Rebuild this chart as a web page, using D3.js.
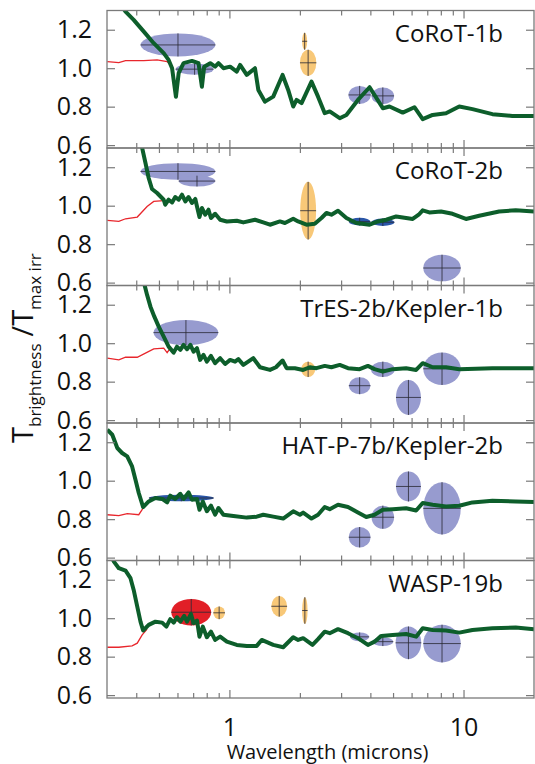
<!DOCTYPE html>
<html><head><meta charset="utf-8">
<script src="https://cdn.jsdelivr.net/npm/d3@7"></script>
<style>body{margin:0;background:#fff} text{font-family:"Open Sans",sans-serif;fill:#111}</style>
</head><body><svg id="c" width="535" height="764"></svg>
<script>
// ---------- data ----------
const planetNames = ["CoRoT-1b","CoRoT-2b","TrES-2b/Kepler-1b","HAT-P-7b/Kepler-2b","WASP-19b"];
const yTickValues = [0.6, 0.8, 1.0, 1.2];
const xMajorTicks = [1, 10];
const xMinorTicks = [0.4,0.5,0.6,0.7,0.8,0.9,2,3,4,5,6,7,8,9];
const xAxisLabel = "Wavelength (microns)";

// model brightness temperature ratio (green), [wavelength, T/Tmax]
const corot1Model = [[0.337,1.344],[0.360,1.294],[0.390,1.251],[0.431,1.190],[0.475,1.130],[0.524,1.078],[0.550,1.043],[0.569,1.000],[0.591,0.852],[0.607,0.974],[0.637,1.026],[0.692,1.038],[0.738,1.026],[0.763,0.904],[0.780,1.008],[0.828,1.026],[0.869,1.008],[0.898,1.026],[0.943,1.000],[1.007,1.008],[1.075,0.982],[1.111,1.017],[1.186,0.965],[1.286,1.000],[1.329,0.887],[1.419,0.826],[1.539,0.852],[1.687,0.965],[1.783,0.887],[1.873,0.801],[1.936,0.835],[2.033,0.818],[2.242,0.930],[2.391,0.852],[2.554,0.766],[2.682,0.775],[2.959,0.740],[3.160,0.757],[3.540,0.835],[3.970,0.901],[4.522,0.792],[4.828,0.801],[5.500,0.769],[6.169,0.797],[6.693,0.735],[7.381,0.757],[8.418,0.766],[9.587,0.801],[10.92,0.787],[13.29,0.761],[16.16,0.752],[20.0,0.752]];
const corot2Model = [[0.417,1.332],[0.424,1.300],[0.438,1.222],[0.452,1.144],[0.467,1.087],[0.491,1.066],[0.524,1.031],[0.532,1.005],[0.550,1.031],[0.569,1.017],[0.587,1.045],[0.607,1.031],[0.627,1.057],[0.648,1.022],[0.669,1.045],[0.692,1.014],[0.715,1.035],[0.727,0.996],[0.745,0.941],[0.763,0.988],[0.788,0.953],[0.814,0.979],[0.834,0.936],[0.869,0.958],[0.913,0.927],[0.975,0.918],[1.075,0.922],[1.147,0.913],[1.286,0.927],[1.395,0.913],[1.490,0.901],[1.643,0.918],[1.726,0.910],[1.873,0.932],[1.966,0.918],[2.135,0.901],[2.315,0.906],[2.473,0.936],[2.597,0.962],[2.727,0.953],[2.910,0.974],[3.160,0.936],[3.485,0.910],[3.970,0.901],[4.306,0.918],[4.675,0.927],[5.156,0.944],[6.067,0.931],[6.435,0.953],[6.693,0.976],[7.145,0.965],[8.015,0.970],[8.977,0.958],[10.24,0.931],[11.67,0.948],[14.19,0.970],[16.71,0.976],[20.0,0.970]];
const tres2Model = [[0.425,1.339],[0.434,1.303],[0.445,1.251],[0.460,1.190],[0.478,1.138],[0.499,1.086],[0.524,1.034],[0.550,0.982],[0.578,0.951],[0.597,0.982],[0.617,0.965],[0.637,0.991],[0.659,0.969],[0.681,0.991],[0.703,0.956],[0.727,0.974],[0.750,0.913],[0.775,0.939],[0.801,0.904],[0.834,0.934],[0.869,0.896],[0.913,0.922],[0.959,0.892],[1.007,0.913],[1.057,0.904],[1.092,0.917],[1.147,0.887],[1.265,0.922],[1.351,0.875],[1.490,0.861],[1.580,0.875],[1.687,0.910],[1.755,0.870],[1.904,0.870],[2.065,0.861],[2.205,0.875],[2.354,0.870],[2.554,0.882],[2.727,0.875],[2.959,0.887],[3.210,0.870],[3.600,0.865],[3.904,0.882],[4.169,0.865],[4.522,0.852],[4.987,0.865],[5.687,0.870],[6.273,0.861],[6.693,0.896],[7.381,0.875],[8.418,0.875],[9.587,0.865],[13.29,0.870],[20.0,0.870]];
const hatp7Model = [[0.301,1.265],[0.316,1.239],[0.332,1.170],[0.348,1.144],[0.366,1.126],[0.384,1.074],[0.397,1.005],[0.410,0.936],[0.428,0.863],[0.452,0.892],[0.483,0.910],[0.516,0.905],[0.542,0.887],[0.559,0.922],[0.587,0.905],[0.617,0.932],[0.637,0.905],[0.669,0.939],[0.692,0.901],[0.727,0.905],[0.745,0.849],[0.770,0.892],[0.801,0.841],[0.834,0.870],[0.869,0.823],[0.898,0.858],[0.943,0.823],[1.040,0.816],[1.186,0.808],[1.308,0.813],[1.395,0.823],[1.539,0.813],[1.697,0.803],[1.873,0.841],[2.000,0.823],[2.065,0.834],[2.242,0.803],[2.391,0.823],[2.554,0.863],[2.682,0.852],[2.910,0.875],[3.210,0.863],[3.540,0.835],[3.843,0.811],[4.169,0.823],[4.522,0.849],[4.987,0.852],[5.687,0.857],[6.273,0.845],[6.693,0.884],[7.381,0.875],[8.418,0.866],[9.587,0.870],[10.92,0.887],[13.29,0.896],[16.71,0.892],[20.0,0.889]];
const wasp19Model = [[0.311,1.329],[0.321,1.294],[0.337,1.260],[0.360,1.247],[0.378,1.208],[0.390,1.147],[0.404,1.060],[0.417,0.982],[0.428,0.936],[0.452,0.965],[0.483,0.982],[0.516,0.977],[0.538,0.956],[0.559,0.995],[0.578,0.977],[0.597,1.005],[0.617,0.982],[0.641,1.012],[0.659,0.982],[0.685,1.022],[0.703,0.974],[0.727,0.988],[0.745,0.904],[0.770,0.956],[0.801,0.901],[0.834,0.930],[0.869,0.887],[0.913,0.904],[0.975,0.878],[1.075,0.861],[1.186,0.856],[1.308,0.856],[1.374,0.887],[1.539,0.861],[1.697,0.849],[1.873,0.901],[1.966,0.887],[2.065,0.896],[2.264,0.861],[2.391,0.891],[2.554,0.930],[2.682,0.922],[2.910,0.943],[3.210,0.922],[3.540,0.896],[3.904,0.861],[4.169,0.878],[4.452,0.908],[4.987,0.913],[5.687,0.918],[6.273,0.904],[6.693,0.948],[7.381,0.939],[8.418,0.936],[9.587,0.925],[10.92,0.939],[13.29,0.948],[16.71,0.951],[20.0,0.943]];

// short-wavelength reflected-light curve (red)
const corot1Red = [[0.301,1.034],[0.337,1.029],[0.360,1.039],[0.431,1.039],[0.491,1.043],[0.542,1.034],[0.569,1.008],[0.591,0.852]];
const corot2Red = [[0.301,0.924],[0.337,0.918],[0.360,0.932],[0.404,0.941],[0.445,0.996],[0.475,1.022],[0.524,1.026]];
const tres2Red = [[0.301,0.922],[0.337,0.913],[0.360,0.927],[0.404,0.927],[0.438,0.948],[0.475,0.970],[0.524,0.974],[0.542,0.951],[0.559,0.974]];
const hatp7Red = [[0.301,0.823],[0.337,0.818],[0.366,0.829],[0.410,0.823],[0.431,0.863]];
const wasp19Red = [[0.301,0.849],[0.337,0.849],[0.384,0.856],[0.404,0.870],[0.424,0.913],[0.445,0.943]];

// observations: wl centre, band lo/hi, T/Tmax, error, kind
const corot1Obs = [
  {wl:0.603,lo:0.389,hi:0.812,t:1.121,err:0.060,kind:"broad"},
  {wl:0.710,lo:0.582,hi:0.844,t:0.995,err:0.029,kind:"broad"},
  {wl:2.096,lo:2.044,hi:2.147,t:1.140,err:0.044,kind:"ground"},
  {wl:2.169,lo:1.986,hi:2.332,t:1.028,err:0.068,kind:"ground"},
  {wl:3.600,lo:3.241,hi:4.036,t:0.861,err:0.047,kind:"broad"},
  {wl:4.522,lo:4.036,hi:5.036,t:0.856,err:0.044,kind:"broad"}];
const corot2Obs = [
  {wl:0.603,lo:0.390,hi:0.814,t:1.178,err:0.043,kind:"broad"},
  {wl:0.727,lo:0.587,hi:0.841,t:1.128,err:0.028,kind:"broad"},
  {wl:2.169,lo:2.000,hi:2.338,t:0.974,err:0.150,kind:"ground"},
  {wl:3.600,lo:3.264,hi:4.036,t:0.917,err:0.020,kind:"dark"},
  {wl:4.522,lo:4.036,hi:5.070,t:0.914,err:0.019,kind:"dark"},
  {wl:8.094,lo:6.587,hi:9.522,t:0.676,err:0.069,kind:"broad"}];
const tres2Obs = [
  {wl:0.652,lo:0.452,hi:0.855,t:1.055,err:0.065,kind:"broad"},
  {wl:2.169,lo:2.013,hi:2.315,t:0.864,err:0.040,kind:"ground"},
  {wl:3.600,lo:3.241,hi:4.009,t:0.779,err:0.044,kind:"broad"},
  {wl:4.522,lo:4.009,hi:5.070,t:0.864,err:0.040,kind:"broad"},
  {wl:5.817,lo:5.121,hi:6.543,t:0.718,err:0.091,kind:"broad"},
  {wl:8.094,lo:6.587,hi:9.522,t:0.867,err:0.084,kind:"broad"}];
const hatp7Obs = [
  {wl:0.623,lo:0.452,hi:0.855,t:0.910,err:0.017,kind:"dark"},
  {wl:3.600,lo:3.241,hi:4.009,t:0.706,err:0.053,kind:"broad"},
  {wl:4.522,lo:4.036,hi:5.036,t:0.810,err:0.060,kind:"broad"},
  {wl:5.817,lo:5.121,hi:6.543,t:0.970,err:0.078,kind:"broad"},
  {wl:8.094,lo:6.587,hi:9.522,t:0.856,err:0.136,kind:"broad"}];
const wasp19Obs = [
  {wl:0.687,lo:0.554,hi:0.820,t:1.031,err:0.069,kind:"red"},
  {wl:0.904,lo:0.855,hi:0.959,t:1.028,err:0.033,kind:"ground"},
  {wl:1.632,lo:1.504,hi:1.755,t:1.062,err:0.054,kind:"ground"},
  {wl:2.100,lo:2.044,hi:2.156,t:1.040,err:0.069,kind:"ground"},
  {wl:3.600,lo:3.318,hi:3.998,t:0.903,err:0.023,kind:"broad"},
  {wl:4.522,lo:4.101,hi:5.036,t:0.878,err:0.023,kind:"broad"},
  {wl:5.817,lo:5.121,hi:6.587,t:0.872,err:0.085,kind:"broad"},
  {wl:8.094,lo:6.587,hi:9.522,t:0.868,err:0.098,kind:"broad"}];

const models = [corot1Model, corot2Model, tres2Model, hatp7Model, wasp19Model];
const reds = [corot1Red, corot2Red, tres2Red, hatp7Red, wasp19Red];
const observations = [corot1Obs, corot2Obs, tres2Obs, hatp7Obs, wasp19Obs];

// ---------- drawing ----------
const svg = d3.select("#c");
const L = 107, R = 534, top0 = 10.5, pitch = 137.5;
const x = d3.scaleLog().domain([0.3, 20]).range([L, R]);
const fill = {broad:"#979bcf", dark:"#2a56a8", ground:"#f8c878", red:"#e11f27"};
const frameCol = "#7a7a7a";

planetNames.forEach((name, i) => {
  const top = top0 + pitch * i, bot = top + pitch;
  const y = d3.scaleLinear().domain([0.585, 1.3]).range([bot, top]);
  const g = svg.append("g");
  const cid = "clip" + i;
  svg.append("clipPath").attr("id", cid).append("rect")
    .attr("x", L).attr("y", top).attr("width", R - L).attr("height", pitch);
  const pg = g.append("g").attr("clip-path", `url(#${cid})`);

  // red curve
  pg.append("path").datum(reds[i])
    .attr("d", d3.line().x(d => x(d[0])).y(d => y(d[1])))
    .attr("fill", "none").attr("stroke", "#e8262c").attr("stroke-width", 1.3);

  // ellipses
  observations[i].forEach(o => {
    const cx = x(o.wl), cy = y(o.t);
    const rx = (x(o.hi) - x(o.lo)) / 2, ry = y(o.t - o.err) - cy;
    pg.append("ellipse").attr("cx", cx).attr("cy", cy).attr("rx", rx).attr("ry", ry)
      .attr("fill", fill[o.kind]);
    pg.append("line").attr("x1", cx - rx).attr("x2", cx + rx).attr("y1", cy).attr("y2", cy)
      .attr("stroke", "#2a2a35").attr("stroke-width", 1).attr("opacity", 0.8);
    pg.append("line").attr("x1", cx).attr("x2", cx).attr("y1", cy - ry).attr("y2", cy + ry)
      .attr("stroke", "#2a2a35").attr("stroke-width", 1).attr("opacity", 0.8);
  });

  // green model
  pg.append("path").datum(models[i])
    .attr("d", d3.line().x(d => x(d[0])).y(d => y(d[1])))
    .attr("fill", "none").attr("stroke", "#0d5e2b").attr("stroke-width", 4)
    .attr("stroke-linejoin", "round");

  // axes
  const ax = [];
  ax.push(g.append("g").attr("transform", `translate(${L},0)`)
    .call(d3.axisLeft(y).tickValues(yTickValues).tickSize(-8).tickPadding(15).tickFormat(d3.format(".1f"))));
  ax.push(g.append("g").attr("transform", `translate(${R},0)`)
    .call(d3.axisRight(y).tickValues(yTickValues).tickSize(-8).tickFormat("")));
  ax.push(g.append("g").attr("transform", `translate(0,${top})`)
    .call(d3.axisTop(x).tickValues(xMinorTicks).tickSize(-5).tickFormat("")));
  ax.push(g.append("g").attr("transform", `translate(0,${top})`)
    .call(d3.axisTop(x).tickValues(xMajorTicks).tickSize(-8).tickFormat("")));
  ax.push(g.append("g").attr("transform", `translate(0,${bot})`)
    .call(d3.axisBottom(x).tickValues(xMinorTicks).tickSize(-5).tickFormat("")));
  const isLast = i === planetNames.length - 1;
  ax.push(g.append("g").attr("transform", `translate(0,${bot})`)
    .call(d3.axisBottom(x).tickValues(xMajorTicks).tickSize(-8).tickPadding(20)
      .tickFormat(isLast ? d3.format("d") : "")));
  ax.forEach(a => {
    a.select(".domain").remove();
    a.selectAll(".tick line").attr("stroke", frameCol).attr("stroke-width", 1.2);
    a.selectAll(".tick text").attr("font-size", 25).attr("font-family", '"Open Sans",sans-serif').attr("fill", "#111");
  });

  g.append("rect").attr("x", L).attr("y", top).attr("width", R - L).attr("height", pitch)
    .attr("fill", "none").attr("stroke", frameCol).attr("stroke-width", 1.3);

  g.append("text").attr("x", 503).attr("y", top + 31).attr("text-anchor", "end")
    .attr("font-size", 24).text(name);
});

// axis titles
svg.append("text").attr("x", (L + R) / 2 + 7).attr("y", 759).attr("text-anchor", "middle")
  .attr("font-size", 20).text(xAxisLabel);

const yl = svg.append("text").attr("transform", "translate(33,443) rotate(-90)");
yl.append("tspan").attr("font-size", 29).text("T");
yl.append("tspan").attr("font-size", 17).attr("dy", 8).text("brightness");
yl.append("tspan").attr("font-size", 29).attr("dy", -8).attr("dx", 7).text("/T");
yl.append("tspan").attr("font-size", 17).attr("dy", 8).text("max irr");
</script></body></html>
